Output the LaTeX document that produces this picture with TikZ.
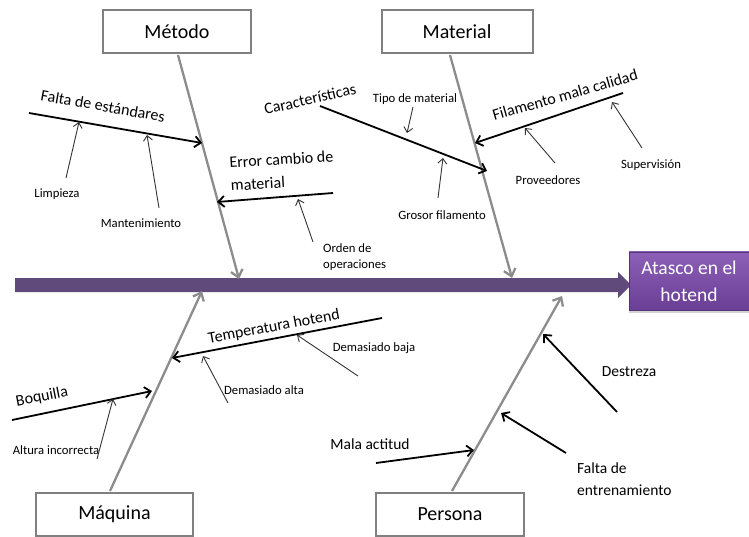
\documentclass[tikz,border=0pt]{standalone}
\usepackage{fontspec}
\setmainfont{Carlito}
\usetikzlibrary{arrows.meta,shadows}

\definecolor{bone}{HTML}{8C8C8C}
\definecolor{spine}{HTML}{604A7B}
\definecolor{boxline}{HTML}{808080}
\definecolor{effecttop}{HTML}{8B60B6}
\definecolor{effectbot}{HTML}{6B3E96}
\definecolor{thinline}{HTML}{333333}

\tikzset{
  catbox/.style={draw=boxline, line width=2pt, fill=white, minimum width=#1,
    minimum height=43pt, inner sep=0pt, font=\fontsize{20}{24}\selectfont},
  bonearrow/.style={draw=bone, line width=2.3pt,
    -{Straight Barb[length=7pt,width=12pt,line width=2.3pt]}},
  causearrow/.style={draw=black, line width=1.8pt,
    -{Straight Barb[length=6pt,width=11pt,line width=1.8pt]}},
  subarrow/.style={draw=thinline, line width=0.9pt,
    -{Straight Barb[length=5pt,width=9pt,line width=0.9pt]}},
  causetext/.style={font=\fontsize{16}{23}\selectfont, inner sep=0pt},
  midtext/.style={font=\fontsize{15.5}{22}\selectfont, inner sep=0pt},
  subtext/.style={font=\fontsize{12.7}{16}\selectfont, inner sep=0pt},
}

\begin{document}
\begin{tikzpicture}[x=1pt, y=-1pt]
\useasboundingbox (0,0) rectangle (749,537);

% ---------- spine and effect ----------
\fill[spine] (15,278) -- (618,278) -- (618,272) -- (631,285) -- (618,298)
  -- (618,292) -- (15,292) -- cycle;
\node[draw=effectbot!80!black, line width=0.4pt, top color=effecttop, bottom color=effectbot,
  minimum width=120pt, minimum height=58pt, inner sep=0pt, text=white,
  align=center, font=\fontsize{19.5}{27}\selectfont,
  drop shadow={shadow xshift=0pt, shadow yshift=-3pt, opacity=0.35}]
  (effect) at (689,281) {Atasco en el\\hotend};

% ---------- category boxes ----------
\node[catbox=148pt] (metodo)   at (177,32)  {Método};
\node[catbox=151pt] (material) at (457,32)  {Material};
\node[catbox=157pt] (maquina)  at (114.5,514) {Máquina};
\node[catbox=148pt] (persona)  at (450,514) {Persona};

% ---------- main bones ----------
\coordinate (metodoTop)   at (178,55);
\coordinate (metodoTip)   at (239,279);
\coordinate (materialTop) at (450,55);
\coordinate (materialTip) at (512,278);
\coordinate (maquinaBot)  at (110,491);
\coordinate (maquinaTip)  at (202,291);
\coordinate (personaBot)  at (452,491);
\coordinate (personaTip)  at (562,296);

\draw[bonearrow] (metodoTop) -- (metodoTip);
\draw[bonearrow] (materialTop) -- (materialTip);
\draw[bonearrow] (maquinaBot) -- (maquinaTip);
\draw[bonearrow] (personaBot) -- (personaTip);

% ---------- Método causes ----------
\coordinate (feA) at (29,113);
\coordinate (feB) at (202,143);
\draw[causearrow] (feA) -- (feB);
\node[causetext, rotate=-10] (fe) at (103,106) {Falta de estándares};

\node[subtext] (limpieza) at (57,194) {Limpieza};
\coordinate (limA) at (66,178);
\coordinate (limB) at (79,122);
\draw[subarrow] (limA) -- (limB);

\node[subtext] (mant) at (141,223) {Mantenimiento};
\coordinate (manA) at (159,208);
\coordinate (manB) at (147,135);
\draw[subarrow] (manA) -- (manB);

\coordinate (ecA) at (333,193);
\coordinate (ecB) at (217,202);
\draw[causearrow] (ecA) -- (ecB);
\node[causetext, align=left, anchor=west, rotate=3.5] (ec) at (230,174)
  {Error cambio de\\material};

\node[subtext, align=left, anchor=west] (orden) at (323,257) {Orden de\\operaciones};
\coordinate (ordA) at (313,242);
\coordinate (ordB) at (298,199);
\draw[subarrow] (ordA) -- (ordB);

% ---------- Material causes ----------
\coordinate (caA) at (320,106);
\coordinate (caB) at (487,171);
\draw[causearrow] (caA) -- (caB);
\node[causetext, rotate=13] (car) at (310,99) {Características};

\node[subtext] (tipo) at (415,99) {Tipo de material};
\coordinate (tipA) at (413,107);
\coordinate (tipB) at (407,133);
\draw[subarrow] (tipA) -- (tipB);

\node[subtext] (grosor) at (442,215) {Grosor filamento};
\coordinate (groA) at (438,198);
\coordinate (groB) at (443,158);
\draw[subarrow] (groA) -- (groB);

\coordinate (fmA) at (623,93);
\coordinate (fmB) at (475,143);
\draw[causearrow] (fmA) -- (fmB);
\node[causetext, rotate=16] (fm) at (565,95) {Filamento mala calidad};

\node[subtext] (prov) at (548,180) {Proveedores};
\coordinate (proA) at (555,163);
\coordinate (proB) at (525,128);
\draw[subarrow] (proA) -- (proB);

\node[subtext] (superv) at (651,165) {Supervisión};
\coordinate (supA) at (642,148);
\coordinate (supB) at (612,102);
\draw[subarrow] (supA) -- (supB);

% ---------- Máquina causes ----------
\coordinate (thA) at (382,318);
\coordinate (thB) at (172,358);
\draw[causearrow] (thA) -- (thB);
\node[causetext, rotate=10.5] (th) at (274,327) {Temperatura hotend};

\node[subtext] (baja) at (374,348) {Demasiado baja};
\coordinate (bajA) at (358,376);
\coordinate (bajB) at (297,335);
\draw[subarrow] (bajA) -- (bajB);

\node[subtext] (alta) at (264,390) {Demasiado alta};
\coordinate (altA) at (228,403);
\coordinate (altB) at (203,356);
\draw[subarrow] (altA) -- (altB);

\coordinate (boA) at (12,420);
\coordinate (boB) at (152,391);
\draw[causearrow] (boA) -- (boB);
\node[causetext, rotate=11] (boq) at (42,397) {Boquilla};

\node[subtext] (altura) at (56,450) {Altura incorrecta};
\coordinate (aiA) at (97,459);
\coordinate (aiB) at (113,399);
\draw[subarrow] (aiA) -- (aiB);

% ---------- Persona causes ----------
\coordinate (maA) at (376,463);
\coordinate (maB) at (474,450);
\draw[causearrow] (maA) -- (maB);
\node[midtext] (mala) at (370,444) {Mala actitud};

\node[midtext] (destreza) at (629,372) {Destreza};
\coordinate (deA) at (617,412);
\coordinate (deB) at (543,334);
\draw[causearrow] (deA) -- (deB);

\node[midtext, align=left, anchor=west] (fent) at (577,479) {Falta de\\entrenamiento};
\coordinate (fenA) at (566,453);
\coordinate (fenB) at (501,413);
\draw[causearrow] (fenA) -- (fenB);

\end{tikzpicture}
\end{document}
